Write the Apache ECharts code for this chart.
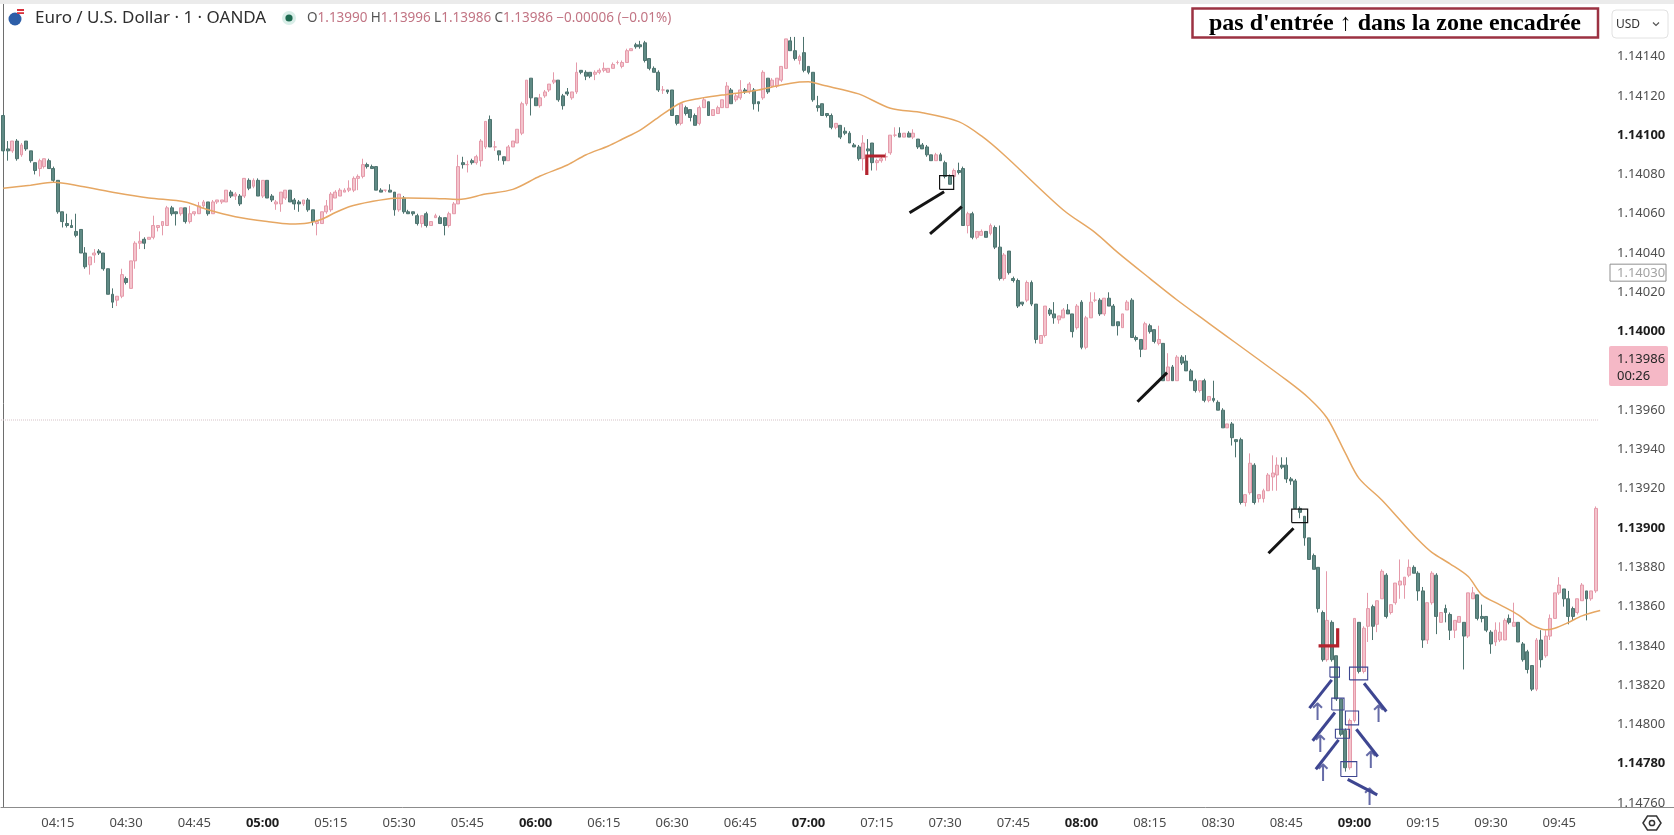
<!DOCTYPE html>
<html><head><meta charset="utf-8">
<script src="https://cdn.jsdelivr.net/npm/echarts@6/dist/echarts.min.js"></script>
<style>html,body{margin:0;padding:0;background:#fff;}#c{width:1674px;height:835px;}</style>
</head><body><div id="c"></div>
<script>
// ---------- categories (1-minute bars, 04:03 -> 09:55, last slots empty) ----------
const START_MINUTE = 4 * 60 + 3;
const SLOT_COUNT = 353;
const categories = [];
for (let k = 0; k < SLOT_COUNT; k++) {
  const m = START_MINUTE + k;
  categories.push(String(Math.floor(m / 60)).padStart(2, '0') + ':' + String(m % 60).padStart(2, '0'));
}

// ---------- candles: [open, high, low, close] ----------
const ohlc = [
[1.14110,1.14111,1.14090,1.14092],[1.14093,1.14097,1.14087,1.14092],[1.14092,1.14097,1.14091,1.14097],[1.14097,1.14098,1.14087,1.14088],
[1.14090,1.14096,1.14089,1.14095],[1.14097,1.14097,1.14092,1.14093],[1.14092,1.14092,1.14086,1.14087],[1.14086,1.14086,1.14080,1.14082],
[1.14083,1.14088,1.14079,1.14087],[1.14084,1.14088,1.14083,1.14088],[1.14087,1.14088,1.14083,1.14083],[1.14083,1.14084,1.14076,1.14077],
[1.14077,1.14077,1.14060,1.14061],[1.14061,1.14061,1.14053,1.14056],[1.14055,1.14060,1.14053,1.14054],[1.14054,1.14057,1.14053,1.14053],
[1.14051,1.14060,1.14048,1.14049],[1.14052,1.14052,1.14040,1.14040],[1.14040,1.14043,1.14032,1.14033],[1.14034,1.14038,1.14029,1.14038],
[1.14039,1.14042,1.14035,1.14040],[1.14041,1.14042,1.14039,1.14040],[1.14040,1.14040,1.14031,1.14032],[1.14032,1.14032,1.14019,1.14019],
[1.14019,1.14022,1.14012,1.14015],[1.14016,1.14018,1.14013,1.14018],[1.14018,1.14032,1.14017,1.14029],[1.14027,1.14028,1.14024,1.14025],
[1.14022,1.14036,1.14022,1.14036],[1.14036,1.14046,1.14032,1.14045],[1.14045,1.14051,1.14042,1.14046],[1.14047,1.14048,1.14042,1.14045],
[1.14047,1.14048,1.14047,1.14048],[1.14048,1.14059,1.14047,1.14054],[1.14053,1.14054,1.14051,1.14054],[1.14054,1.14056,1.14049,1.14056],
[1.14054,1.14064,1.14054,1.14063],[1.14063,1.14064,1.14059,1.14060],[1.14061,1.14061,1.14054,1.14060],[1.14060,1.14063,1.14059,1.14063],
[1.14063,1.14063,1.14055,1.14056],[1.14056,1.14064,1.14055,1.14060],[1.14060,1.14061,1.14059,1.14061],[1.14060,1.14066,1.14060,1.14064],
[1.14064,1.14067,1.14063,1.14066],[1.14066,1.14066,1.14059,1.14060],[1.14060,1.14067,1.14060,1.14066],[1.14066,1.14067,1.14065,1.14067],
[1.14066,1.14067,1.14065,1.14067],[1.14066,1.14072,1.14066,1.14072],[1.14071,1.14072,1.14068,1.14069],[1.14069,1.14071,1.14067,1.14070],
[1.14069,1.14070,1.14064,1.14065],[1.14069,1.14078,1.14068,1.14078],[1.14077,1.14078,1.14072,1.14073],[1.14074,1.14078,1.14073,1.14077],
[1.14077,1.14078,1.14069,1.14069],[1.14069,1.14077,1.14068,1.14077],[1.14077,1.14077,1.14068,1.14068],[1.14069,1.14070,1.14066,1.14067],
[1.14065,1.14067,1.14062,1.14066],[1.14065,1.14071,1.14061,1.14071],[1.14068,1.14072,1.14067,1.14072],[1.14072,1.14072,1.14066,1.14066],
[1.14067,1.14068,1.14062,1.14065],[1.14066,1.14067,1.14061,1.14065],[1.14065,1.14067,1.14064,1.14067],[1.14067,1.14068,1.14061,1.14062],
[1.14062,1.14062,1.14054,1.14056],[1.14055,1.14057,1.14049,1.14056],[1.14055,1.14061,1.14055,1.14061],[1.14061,1.14067,1.14060,1.14064],
[1.14062,1.14071,1.14061,1.14070],[1.14068,1.14072,1.14068,1.14071],[1.14069,1.14073,1.14069,1.14072],[1.14071,1.14073,1.14071,1.14072],
[1.14072,1.14077,1.14071,1.14073],[1.14072,1.14079,1.14071,1.14078],[1.14078,1.14080,1.14072,1.14079],[1.14079,1.14088,1.14078,1.14085],
[1.14085,1.14086,1.14083,1.14084],[1.14084,1.14085,1.14083,1.14083],[1.14084,1.14084,1.14072,1.14072],[1.14072,1.14073,1.14071,1.14071],
[1.14072,1.14072,1.14071,1.14072],[1.14072,1.14075,1.14071,1.14071],[1.14071,1.14071,1.14059,1.14062],[1.14062,1.14070,1.14061,1.14070],
[1.14068,1.14069,1.14060,1.14061],[1.14061,1.14062,1.14060,1.14060],[1.14061,1.14061,1.14059,1.14060],[1.14059,1.14060,1.14054,1.14055],
[1.14055,1.14059,1.14053,1.14059],[1.14060,1.14061,1.14053,1.14054],[1.14054,1.14056,1.14054,1.14056],[1.14058,1.14060,1.14058,1.14059],
[1.14058,1.14059,1.14055,1.14055],[1.14058,1.14058,1.14049,1.14054],[1.14054,1.14061,1.14053,1.14060],[1.14060,1.14066,1.14060,1.14065],
[1.14065,1.14090,1.14065,1.14084],[1.14086,1.14089,1.14083,1.14085],[1.14085,1.14087,1.14081,1.14085],[1.14087,1.14088,1.14085,1.14086],
[1.14086,1.14090,1.14085,1.14089],[1.14087,1.14098,1.14084,1.14097],[1.14094,1.14107,1.14093,1.14107],[1.14108,1.14110,1.14094,1.14094],
[1.14094,1.14097,1.14092,1.14094],[1.14092,1.14092,1.14087,1.14090],[1.14089,1.14089,1.14085,1.14087],[1.14087,1.14095,1.14087,1.14094],
[1.14094,1.14097,1.14094,1.14097],[1.14096,1.14103,1.14096,1.14103],[1.14101,1.14117,1.14100,1.14116],[1.14116,1.14128,1.14115,1.14128],
[1.14129,1.14129,1.14110,1.14119],[1.14119,1.14119,1.14115,1.14115],[1.14115,1.14121,1.14114,1.14119],[1.14120,1.14123,1.14119,1.14122],
[1.14123,1.14126,1.14122,1.14126],[1.14127,1.14132,1.14126,1.14128],[1.14128,1.14128,1.14117,1.14118],[1.14120,1.14121,1.14113,1.14115],
[1.14122,1.14124,1.14120,1.14121],[1.14119,1.14122,1.14118,1.14122],[1.14122,1.14137,1.14121,1.14132],[1.14133,1.14133,1.14131,1.14132],
[1.14132,1.14133,1.14128,1.14130],[1.14132,1.14132,1.14129,1.14130],[1.14131,1.14133,1.14128,1.14132],[1.14132,1.14134,1.14131,1.14133],
[1.14133,1.14137,1.14132,1.14134],[1.14132,1.14134,1.14132,1.14134],[1.14134,1.14137,1.14134,1.14136],[1.14137,1.14138,1.14136,1.14137],
[1.14135,1.14138,1.14134,1.14137],[1.14137,1.14144,1.14137,1.14143],[1.14143,1.14144,1.14143,1.14144],[1.14146,1.14147,1.14144,1.14145],
[1.14146,1.14148,1.14144,1.14145],[1.14147,1.14148,1.14137,1.14138],[1.14139,1.14139,1.14133,1.14134],[1.14134,1.14135,1.14132,1.14132],
[1.14132,1.14133,1.14122,1.14123],[1.14123,1.14125,1.14121,1.14123],[1.14123,1.14123,1.14121,1.14122],[1.14123,1.14123,1.14110,1.14110],
[1.14110,1.14110,1.14105,1.14106],[1.14106,1.14116,1.14105,1.14116],[1.14114,1.14115,1.14110,1.14111],[1.14113,1.14113,1.14107,1.14109],
[1.14110,1.14111,1.14105,1.14105],[1.14106,1.14115,1.14105,1.14114],[1.14114,1.14119,1.14114,1.14118],[1.14117,1.14117,1.14110,1.14110],
[1.14110,1.14113,1.14110,1.14113],[1.14111,1.14115,1.14111,1.14114],[1.14114,1.14118,1.14114,1.14118],[1.14114,1.14127,1.14114,1.14125],
[1.14123,1.14124,1.14116,1.14116],[1.14118,1.14121,1.14117,1.14120],[1.14119,1.14128,1.14118,1.14123],[1.14123,1.14124,1.14121,1.14122],
[1.14122,1.14127,1.14121,1.14126],[1.14123,1.14124,1.14113,1.14116],[1.14117,1.14117,1.14112,1.14116],[1.14119,1.14133,1.14118,1.14132],
[1.14129,1.14129,1.14121,1.14122],[1.14125,1.14129,1.14124,1.14128],[1.14125,1.14129,1.14124,1.14129],[1.14128,1.14135,1.14127,1.14135],
[1.14134,1.14149,1.14134,1.14149],[1.14148,1.14150,1.14143,1.14143],[1.14143,1.14150,1.14138,1.14139],[1.14138,1.14141,1.14136,1.14140],
[1.14142,1.14150,1.14132,1.14133],[1.14135,1.14135,1.14131,1.14132],[1.14132,1.14132,1.14117,1.14118],[1.14115,1.14120,1.14112,1.14114],
[1.14116,1.14116,1.14110,1.14110],[1.14111,1.14111,1.14109,1.14110],[1.14110,1.14111,1.14103,1.14104],[1.14104,1.14106,1.14103,1.14106],
[1.14105,1.14105,1.14098,1.14099],[1.14102,1.14104,1.14100,1.14101],[1.14101,1.14102,1.14096,1.14096],[1.14095,1.14096,1.14094,1.14094],
[1.14094,1.14095,1.14087,1.14088],[1.14088,1.14100,1.14082,1.14096],[1.14093,1.14098,1.14086,1.14092],[1.14096,1.14096,1.14082,1.14086],
[1.14086,1.14088,1.14082,1.14087],[1.14087,1.14089,1.14086,1.14088],[1.14089,1.14091,1.14087,1.14089],[1.14091,1.14100,1.14090,1.14100],
[1.14100,1.14104,1.14099,1.14100],[1.14101,1.14104,1.14099,1.14099],[1.14099,1.14101,1.14099,1.14101],[1.14101,1.14102,1.14099,1.14099],
[1.14099,1.14103,1.14098,1.14101],[1.14098,1.14098,1.14093,1.14094],[1.14095,1.14096,1.14093,1.14093],[1.14094,1.14095,1.14089,1.14090],
[1.14090,1.14090,1.14087,1.14087],[1.14087,1.14091,1.14087,1.14090],[1.14090,1.14091,1.14087,1.14087],[1.14086,1.14087,1.14078,1.14079],
[1.14079,1.14080,1.14075,1.14075],[1.14079,1.14083,1.14078,1.14082],[1.14082,1.14086,1.14080,1.14081],[1.14083,1.14084,1.14054,1.14054],
[1.14054,1.14061,1.14050,1.14060],[1.14060,1.14061,1.14047,1.14048],[1.14048,1.14051,1.14047,1.14051],[1.14049,1.14052,1.14049,1.14051],
[1.14051,1.14051,1.14048,1.14048],[1.14050,1.14055,1.14049,1.14054],[1.14053,1.14054,1.14042,1.14043],[1.14043,1.14054,1.14026,1.14027],
[1.14027,1.14040,1.14026,1.14039],[1.14041,1.14041,1.14029,1.14030],[1.14027,1.14028,1.14025,1.14026],[1.14026,1.14027,1.14012,1.14013],
[1.14015,1.14015,1.14013,1.14014],[1.14016,1.14026,1.14015,1.14025],[1.14025,1.14026,1.14013,1.14014],[1.14014,1.14014,1.13994,1.13996],
[1.13994,1.13998,1.13994,1.13998],[1.13998,1.14013,1.13997,1.14013],[1.14011,1.14012,1.14008,1.14009],[1.14009,1.14015,1.14004,1.14007],
[1.14006,1.14008,1.14004,1.14008],[1.14007,1.14012,1.14007,1.14011],[1.14011,1.14014,1.14009,1.14009],[1.14009,1.14009,1.13997,1.14000],
[1.14002,1.14014,1.14001,1.14013],[1.14015,1.14016,1.13991,1.13992],[1.13992,1.14008,1.13991,1.14007],[1.14007,1.14020,1.14007,1.14015],
[1.14016,1.14020,1.14015,1.14016],[1.14016,1.14017,1.14008,1.14009],[1.14009,1.14017,1.14008,1.14017],[1.14017,1.14020,1.14013,1.14013],
[1.14013,1.14014,1.14003,1.14003],[1.14005,1.14005,1.13998,1.14003],[1.14002,1.14009,1.14002,1.14009],[1.14011,1.14016,1.14011,1.14015],
[1.14016,1.14017,1.13997,1.13997],[1.13997,1.13998,1.13995,1.13996],[1.13996,1.13996,1.13987,1.13991],[1.13991,1.14005,1.13991,1.14004],
[1.14003,1.14004,1.13999,1.14000],[1.14001,1.14001,1.13994,1.13995],[1.13994,1.14003,1.13993,1.13996],[1.13994,1.13994,1.13975,1.13975],
[1.13975,1.13989,1.13975,1.13982],[1.13982,1.13983,1.13975,1.13975],[1.13975,1.13988,1.13975,1.13987],[1.13987,1.13988,1.13983,1.13984],
[1.13985,1.13988,1.13980,1.13980],[1.13980,1.13981,1.13975,1.13975],[1.13975,1.13976,1.13969,1.13970],[1.13970,1.13975,1.13969,1.13975],
[1.13975,1.13976,1.13964,1.13965],[1.13965,1.13967,1.13964,1.13967],[1.13966,1.13975,1.13964,1.13965],[1.13964,1.13965,1.13960,1.13960],
[1.13960,1.13961,1.13951,1.13951],[1.13951,1.13953,1.13951,1.13953],[1.13953,1.13954,1.13942,1.13946],[1.13945,1.13945,1.13936,1.13944],
[1.13945,1.13946,1.13912,1.13913],[1.13913,1.13917,1.13911,1.13917],[1.13918,1.13938,1.13917,1.13933],[1.13932,1.13933,1.13912,1.13913],
[1.13915,1.13917,1.13913,1.13917],[1.13915,1.13920,1.13913,1.13919],[1.13919,1.13928,1.13919,1.13927],[1.13926,1.13937,1.13919,1.13928],
[1.13927,1.13936,1.13919,1.13932],[1.13932,1.13936,1.13930,1.13931],[1.13932,1.13936,1.13923,1.13925],[1.13925,1.13926,1.13922,1.13924],
[1.13924,1.13925,1.13910,1.13910],[1.13910,1.13911,1.13905,1.13908],[1.13906,1.13906,1.13891,1.13895],[1.13895,1.13895,1.13884,1.13884],
[1.13886,1.13887,1.13879,1.13879],[1.13880,1.13880,1.13857,1.13859],[1.13857,1.13858,1.13832,1.13833],[1.13833,1.13878,1.13832,1.13853],
[1.13852,1.13853,1.13832,1.13833],[1.13835,1.13835,1.13812,1.13813],[1.13813,1.13813,1.13794,1.13795],[1.13797,1.13798,1.13776,1.13778],
[1.13778,1.13803,1.13777,1.13802],[1.13802,1.13854,1.13801,1.13854],[1.13852,1.13852,1.13826,1.13827],[1.13827,1.13850,1.13826,1.13849],
[1.13850,1.13867,1.13842,1.13859],[1.13860,1.13861,1.13843,1.13850],[1.13851,1.13863,1.13847,1.13863],[1.13864,1.13879,1.13864,1.13878],
[1.13876,1.13877,1.13854,1.13855],[1.13857,1.13861,1.13856,1.13861],[1.13862,1.13872,1.13861,1.13872],[1.13871,1.13884,1.13864,1.13873],
[1.13871,1.13875,1.13864,1.13875],[1.13876,1.13884,1.13875,1.13880],[1.13880,1.13881,1.13877,1.13877],[1.13877,1.13878,1.13863,1.13868],
[1.13868,1.13870,1.13839,1.13843],[1.13843,1.13862,1.13841,1.13862],[1.13862,1.13878,1.13861,1.13877],[1.13876,1.13877,1.13846,1.13855],
[1.13852,1.13857,1.13852,1.13857],[1.13859,1.13861,1.13852,1.13857],[1.13856,1.13857,1.13843,1.13848],[1.13848,1.13853,1.13844,1.13853],
[1.13852,1.13855,1.13852,1.13855],[1.13852,1.13852,1.13828,1.13845],[1.13845,1.13867,1.13844,1.13867],[1.13864,1.13870,1.13864,1.13867],
[1.13866,1.13866,1.13853,1.13854],[1.13855,1.13861,1.13852,1.13854],[1.13855,1.13855,1.13847,1.13848],[1.13847,1.13848,1.13836,1.13841],
[1.13842,1.13852,1.13840,1.13848],[1.13843,1.13852,1.13842,1.13847],[1.13843,1.13854,1.13843,1.13853],[1.13854,1.13856,1.13851,1.13852],
[1.13850,1.13862,1.13850,1.13852],[1.13852,1.13852,1.13842,1.13842],[1.13841,1.13842,1.13832,1.13833],[1.13837,1.13838,1.13826,1.13828],
[1.13830,1.13830,1.13817,1.13818],[1.13818,1.13844,1.13817,1.13843],[1.13843,1.13848,1.13829,1.13833],[1.13835,1.13848,1.13834,1.13845],
[1.13845,1.13856,1.13843,1.13854],[1.13854,1.13867,1.13854,1.13867],[1.13867,1.13875,1.13866,1.13871],[1.13869,1.13869,1.13860,1.13864],
[1.13864,1.13868,1.13851,1.13855],[1.13859,1.13860,1.13853,1.13855],[1.13857,1.13864,1.13856,1.13864],[1.13863,1.13872,1.13863,1.13871],
[1.13868,1.13868,1.13853,1.13864],[1.13864,1.13868,1.13863,1.13868],[1.13868,1.13911,1.13867,1.13910]
];

// ---------- moving average: [bar index, value] ----------
const maPoints = [
[0,1.14073],[6,1.140745],[11,1.14076],[17,1.14074],[25,1.140705],[32,1.14068],[40,1.14066],[45,1.14062],
[51,1.140585],[58,1.14056],[63,1.140548],[67,1.140553],[70,1.140572],[73,1.140606],[76,1.140636],[81,1.140662],
[86,1.140679],[89,1.14068],[95,1.140678],[100,1.140673],[106,1.1407],[112,1.140724],[118,1.140792],[124,1.140848],
[128,1.140899],[133,1.140945],[136,1.140979],[140,1.141026],[144,1.141091],[149,1.141165],[153,1.141187],[158,1.141204],
[162,1.141216],[166,1.14123],[171,1.141255],[175,1.14127],[177,1.141272],[180,1.141255],[188,1.14121],[195,1.141137],
[202,1.141114],[210,1.141069],[215,1.140996],[220,1.140899],[233,1.140619],[240,1.140504],[245,1.140402],[252,1.140271],
[258,1.140161],[265,1.140042],[282,1.139754],[287,1.139661],[291,1.139559],[295,1.139381],[298,1.139253],[303,1.139143],
[307,1.139041],[311,1.13894],[314,1.138876],[318,1.138818],[322,1.138753],[325,1.13866],[329,1.138609],[333,1.138558],
[336,1.138507],[339,1.138482],[341,1.13849],[344,1.138519],[347,1.138553],[351,1.13858]
];

// ---------- price axis ----------
const Y_MIN = 1.13758, Y_MAX = 1.141688;
const yTickValues = [1.14140,1.14120,1.14100,1.14080,1.14060,1.14040,1.14020,1.14000,1.13960,1.13940,1.13920,1.13900,1.13880,1.13860,1.13840,1.13820,1.13800,1.13780,1.13760];
const yTickLabels = ['1.14140','1.14120','1.14100','1.14080','1.14060','1.14040','1.14020','1.14000','1.13960','1.13940','1.13920','1.13900','1.13880','1.13860','1.13840','1.13820','1.14800','1.14780','1.14760'];
const yBoldLabels = ['1.14100','1.14000','1.13900','1.14780'];
const prevCloseLevel = 1.13955;
const priceTagValue = 1.13986, priceTagText = '1.13986', priceTagTimer = '00:26';
const markerValue = 1.14030, markerText = '1.14030';

// ---------- header texts ----------
const headerTitle = 'Euro / U.S. Dollar · 1 · OANDA';
const headerOHLC = [['O','1.13990'],['H','1.13996'],['L','1.13986'],['C','1.13986']];
const headerChange = '−0.00006 (−0.01%)';
const boxNote = "pas d'entrée ↑ dans la zone encadrée";

// ---------- drawn annotations (bar index, price) ----------
const blackSegments = [
  [[199.2,1.140605],[206.8,1.140712]],
  [[203.7,1.140497],[210.7,1.140636]],
  [[249.3,1.139643],[255.8,1.139791]],
  [[278.1,1.138872],[283.6,1.138999]]
];
const blackBoxes = [[205.8,208.9,1.140724,1.140794],[283.2,286.7,1.139028,1.139096]];
const redMarks = [
  [[189.8,1.140797],[189.8,1.140894],[193.9,1.140894]],
  [[289.1,1.138400],[293.3,1.138400],[293.3,1.138490]]
];
const blueBoxes = [
  [291.6,293.7,1.138241,1.138292],[292.0,294.7,1.138074,1.138134],[292.8,295.9,1.137930,1.137976],
  [294.0,297.5,1.137735,1.137811],[295.9,299.9,1.138227,1.138292],[295.0,297.9,1.137998,1.138069]
];
const blueSegments = [
  [[287.1,1.138083],[292.0,1.138227]],
  [[287.8,1.137917],[292.7,1.138061]],
  [[288.5,1.137772],[293.5,1.137922]],
  [[299.1,1.138210],[304.0,1.138066]],
  [[297.4,1.137976],[302.1,1.137837]],
  [[295.5,1.137721],[302.0,1.137642]]
];
const blueArrows = [[288.9,1.138057],[289.5,1.137891],[290.1,1.137743],[302.3,1.138044],[300.6,1.137811],[300.3,1.137620]];

// ---------- build ----------
const boxToPath = b => [[b[0],b[2]],[b[1],b[2]],[b[1],b[3]],[b[0],b[3]],[b[0],b[2]]];
const candleData = ohlc.map(r => [r[0], r[3], r[2], r[1]]);
const FONT = '"Noto Sans", "DejaVu Sans", sans-serif';
const NAVY = '#3e4691';

const chart = echarts.init(document.getElementById('c'), null, {renderer: 'canvas'});
chart.setOption({
  animation: false,
  backgroundColor: '#ffffff',
  textStyle: {fontFamily: FONT},
  grid: {left: 1, right: 67, top: 0, bottom: 28, containLabel: false, outerBoundsMode: 'none'},
  xAxis: [{
    type: 'category', data: categories, boundaryGap: true,
    axisLine: {show: true, lineStyle: {color: '#8c8c8c', width: 1}},
    axisTick: {show: false}, splitLine: {show: false},
    axisLabel: {
      interval: (idx, val) => /:(00|15|30|45)$/.test(val),
      margin: 10, fontSize: 13, color: '#4a4a4a', fontFamily: FONT,
      formatter: v => v.endsWith(':00') ? '{b|' + v + '}' : v,
      rich: {b: {fontWeight: 'bold', color: '#1e1e1e', fontSize: 13, fontFamily: FONT}}
    }
  }, {
    type: 'value', show: false, min: -0.5, max: SLOT_COUNT - 0.5
  }],
  yAxis: [{
    type: 'value', position: 'right', min: Y_MIN, max: Y_MAX, scale: true,
    axisLine: {show: true, lineStyle: {color: '#6e6e6e', width: 1}},
    axisTick: {show: false}, splitLine: {show: false},
    axisLabel: {
      customValues: yTickValues, margin: 10, fontSize: 13, color: '#4f4f4f', fontFamily: FONT,
      formatter: val => {
        let k = yTickValues.findIndex(t => Math.abs(t - val) < 1e-7);
        const s = k >= 0 ? yTickLabels[k] : val.toFixed(5);
        return yBoldLabels.includes(s) ? '{b|' + s + '}' : s;
      },
      rich: {b: {fontWeight: 'bold', color: '#1e1e1e', fontSize: 13, fontFamily: FONT}}
    }
  }],
  series: [{
    type: 'line', name: 'prevClose', xAxisIndex: 1, symbol: 'none', silent: true,
    data: [[-0.5, prevCloseLevel], [SLOT_COUNT - 2.5, prevCloseLevel]],
    lineStyle: {type: 'dotted', color: '#d6c3c8', width: 1}, z: 1
  }, {
    type: 'candlestick', name: 'EURUSD', data: candleData, barWidth: 3.4,
    itemStyle: {color: '#f4c3cc', color0: '#5f8a85', borderColor: '#e59aaa', borderColor0: '#4d736e', borderWidth: 1},
    z: 2
  }, {
    type: 'line', name: 'MA', xAxisIndex: 1, data: maPoints, smooth: 0.3, symbol: 'none',
    lineStyle: {color: '#e6a763', width: 1.5}, silent: true, z: 3
  }, {
    type: 'lines', coordinateSystem: 'cartesian2d', xAxisIndex: 1, polyline: true, silent: true,
    lineStyle: {color: '#141414', width: 3, opacity: 1}, data: blackSegments.map(s => ({coords: s})), z: 5
  }, {
    type: 'lines', coordinateSystem: 'cartesian2d', xAxisIndex: 1, polyline: true, silent: true,
    lineStyle: {color: '#141414', width: 1.2, opacity: 1}, data: blackBoxes.map(b => ({coords: boxToPath(b)})), z: 5
  }, {
    type: 'lines', coordinateSystem: 'cartesian2d', xAxisIndex: 1, polyline: true, silent: true,
    lineStyle: {color: '#b3232e', width: 3.2, opacity: 1}, data: redMarks.map(s => ({coords: s})), z: 5
  }, {
    type: 'lines', coordinateSystem: 'cartesian2d', xAxisIndex: 1, polyline: true, silent: true,
    lineStyle: {color: NAVY, width: 1.1, opacity: 1}, data: blueBoxes.map(b => ({coords: boxToPath(b)})), z: 5
  }, {
    type: 'lines', coordinateSystem: 'cartesian2d', xAxisIndex: 1, polyline: true, silent: true,
    lineStyle: {color: NAVY, width: 3, opacity: 1}, data: blueSegments.map(s => ({coords: s})), z: 5
  }, {
    type: 'scatter', xAxisIndex: 1, data: blueArrows, symbolSize: 1, silent: true,
    itemStyle: {color: 'rgba(0,0,0,0)'},
    label: {show: true, position: 'inside', formatter: '↑', fontSize: 24, color: NAVY, fontFamily: '"DejaVu Sans", sans-serif'},
    z: 6
  }]
});

// ---------- overlay (header, price tags) ----------
const yTag = chart.convertToPixel({yAxisIndex: 0}, priceTagValue);
const yMark = chart.convertToPixel({yAxisIndex: 0}, markerValue);
const xAxisY = 835 - 28;
let ohlcText = headerOHLC.map(p => '{k|' + p[0] + '}{v|' + p[1] + '}').join(' ') + ' {v|' + headerChange + '}';
chart.setOption({
  graphic: [
    {type: 'rect', z: 100, shape: {x: 0, y: 0, width: 1674, height: 4}, style: {fill: '#ebebeb'}},
    {type: 'circle', z: 100, shape: {cx: 15, cy: 19, r: 6.5}, style: {fill: '#2d5ea8'}},
    {type: 'rect', z: 101, shape: {x: 17, y: 9, width: 7, height: 5}, style: {fill: '#d8313c'}},
    {type: 'rect', z: 101, shape: {x: 17, y: 11, width: 7, height: 1.2}, style: {fill: '#ffffff'}},
    {type: 'text', z: 100, style: {x: 35, y: 18.5, text: headerTitle, font: '17px ' + FONT, fill: '#2e2e2e', verticalAlign: 'middle'}},
    {type: 'circle', z: 100, shape: {cx: 289, cy: 18, r: 7}, style: {fill: '#d9eee8'}},
    {type: 'circle', z: 101, shape: {cx: 289, cy: 18, r: 3.6}, style: {fill: '#1d6a50'}},
    {type: 'text', z: 100, style: {x: 307, y: 18.5, text: ohlcText, verticalAlign: 'middle',
      rich: {k: {fontSize: 13.5, fontFamily: FONT, fill: '#555555', color: '#555555'},
             v: {fontSize: 13.5, fontFamily: FONT, fill: '#c27584', color: '#c27584'}}}},
    {type: 'rect', z: 100, shape: {x: 1192.5, y: 8.5, width: 405.5, height: 29}, style: {fill: '#ffffff', stroke: '#9c3242', lineWidth: 2.5}},
    {type: 'text', z: 101, style: {x: 1395, y: 23.5, text: boxNote, font: 'bold 24px "Liberation Serif", "Times New Roman", serif', fill: '#000000', align: 'center', verticalAlign: 'middle'}},
    {type: 'rect', z: 100, shape: {x: 1612, y: 10, width: 56, height: 28, r: 4}, style: {fill: '#ffffff', stroke: '#e2e2e2', lineWidth: 1}},
    {type: 'text', z: 101, style: {x: 1616, y: 24.5, text: 'USD', font: '12px ' + FONT, fill: '#333333', verticalAlign: 'middle'}},
    {type: 'polyline', z: 101, shape: {points: [[1653, 22.5], [1656, 25.5], [1659, 22.5]]}, style: {stroke: '#555555', lineWidth: 1.2, fill: null}},
    {type: 'rect', z: 100, shape: {x: 1610, y: yMark - 8.5, width: 56, height: 17}, style: {fill: '#ffffff', stroke: '#8f8f8f', lineWidth: 1}},
    {type: 'text', z: 101, style: {x: 1617, y: yMark + 0.5, text: markerText, font: '13px ' + FONT, fill: '#a3a3a3', verticalAlign: 'middle'}},
    {type: 'rect', z: 100, shape: {x: 1609, y: yTag - 13, width: 59, height: 40, r: 2}, style: {fill: '#f5b8c6'}},
    {type: 'text', z: 101, style: {x: 1617, y: yTag, text: priceTagText, font: '13px ' + FONT, fill: '#262626', verticalAlign: 'middle'}},
    {type: 'text', z: 101, style: {x: 1617, y: yTag + 17, text: priceTagTimer, font: '13px ' + FONT, fill: '#262626', verticalAlign: 'middle'}},
    {type: 'rect', z: 100, shape: {x: 1608, y: xAxisY + 1, width: 66, height: 28}, style: {fill: '#ffffff'}},
    {type: 'line', z: 101, shape: {x1: 1607, y1: xAxisY + 0.5, x2: 1674, y2: xAxisY + 0.5}, style: {stroke: '#8c8c8c', lineWidth: 1}},
    {type: 'polygon', z: 101, shape: {points: [[1643, 823], [1647.5, 816], [1656.5, 816], [1661, 823], [1656.5, 830], [1647.5, 830]]}, style: {fill: null, stroke: '#333333', lineWidth: 1.5}},
    {type: 'circle', z: 101, shape: {cx: 1652, cy: 823, r: 2.6}, style: {fill: null, stroke: '#333333', lineWidth: 1.5}}
  ]
});
</script></body></html>
